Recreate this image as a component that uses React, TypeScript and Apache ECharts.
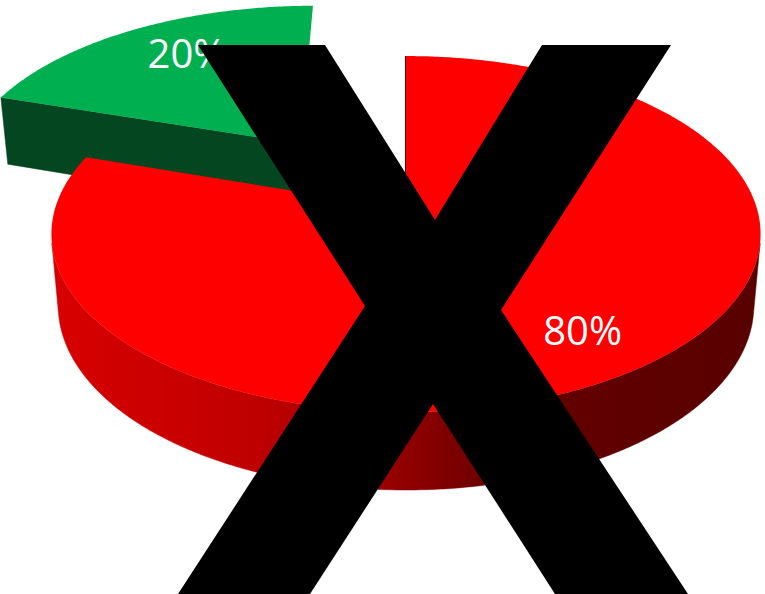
import { useEffect, useRef } from "react";
import * as echarts from "echarts";

// ---- data ----
const CATEGORIES = ["Red", "Green"];
const VALUES = [80, 20];

// ---- styles ----
const TOP_COLORS = ["#FE0000", "#00B050"];
const CUT_COLORS = ["#6A0000", "#03461F"];
const SIDE_STOPS = [
  [
    { offset: 0, color: "#D80000" },
    { offset: 0.28, color: "#C00000" },
    { offset: 0.39, color: "#AE0000" },
    { offset: 0.52, color: "#8A0000" },
    { offset: 0.63, color: "#660000" },
    { offset: 1, color: "#580000" },
  ],
  [
    { offset: 0, color: "#03461F" },
    { offset: 1, color: "#03461F" },
  ],
];
// exploded offset of each slice (world units, radius = 1)
const EXPLODE = [
  [0, 0],
  [-0.317, 0.393],
];
const LABEL_POS = [
  { r: 0.78, shift: 0 },
  { r: 0.75, shift: 4 },
];
// camera
const CAM = { cx: 406, cy: 209, f: 2166, d: 6.17, sinA: 0.497, cosA: 0.868, h: 0.2375 };

const X_MARK = [
  [198, 45], [325, 45], [435, 220], [542, 45], [671, 45], [501, 310],
  [688, 594], [555, 594], [433, 404], [310, 594], [178, 594], [365, 306],
];

function project(X: number, Y: number, Z: number) {
  const w = CAM.d + Y * CAM.cosA - Z * CAM.sinA;
  const v = Y * CAM.sinA + Z * CAM.cosA;
  return [CAM.cx + (CAM.f * X) / w, CAM.cy - (CAM.f * v) / w];
}

const TOTAL = VALUES.reduce((a, b) => a + b, 0);
const RAD = Math.PI / 180;

function renderItem(params: any, api: any) {
  const i = params.dataIndex;
  const val = api.value(0);
  let before = 0;
  for (let k = 0; k < i; k++) before += VALUES[k];
  const t0 = (before / TOTAL) * 360;
  const t1 = t0 + (val / TOTAL) * 360;
  const [ex, ey] = EXPLODE[i];
  const pt = (deg: number, r: number, z: number) =>
    project(ex + r * Math.sin(deg * RAD), ey + r * Math.cos(deg * RAD), z);
  const base = Math.round(-ey * 100);
  const children: any[] = [];

  // outer side (only faces turned to the viewer)
  const vis = (deg: number) => {
    const s = Math.sin(deg * RAD), c = Math.cos(deg * RAD);
    return -ex * s - ey * c - 1 - CAM.d * CAM.cosA * c > 0;
  };
  const steps = Math.max(2, Math.ceil((t1 - t0) / 0.5));
  let run: number[] = [];
  const runs: number[][] = [];
  for (let s = 0; s <= steps; s++) {
    const deg = t0 + ((t1 - t0) * s) / steps;
    if (vis(deg)) run.push(deg);
    else if (run.length) { runs.push(run); run = []; }
  }
  if (run.length) runs.push(run);
  const sideFill = new echarts.graphic.LinearGradient(50, 0, 765, 0, SIDE_STOPS[i], true);
  runs.forEach((r) => {
    if (r.length < 2) return;
    const pts = r.map((d) => pt(d, 1, 0)).concat(r.slice().reverse().map((d) => pt(d, 1, -CAM.h)));
    children.push({
      type: "polygon",
      z2: base + 1,
      shape: { points: pts },
      style: { fill: sideFill, stroke: sideFill, lineWidth: 0.5 },
    });
  });

  // radial cut faces (edge-on ones become a thin dark edge line, grazing slivers are skipped)
  const camX = 0, camY = -CAM.d * CAM.cosA;
  const cuts = [
    { deg: t0, n: [-Math.cos(t0 * RAD), Math.sin(t0 * RAD)] },
    { deg: t1, n: [Math.cos(t1 * RAD), -Math.sin(t1 * RAD)] },
  ];
  cuts.forEach((c) => {
    const dot = (camX - ex) * c.n[0] + (camY - ey) * c.n[1];
    const edgeOn = Math.abs(dot) < 1e-3;
    if (edgeOn || dot > 1) {
      children.push({
        type: "polygon",
        z2: base + 2,
        shape: {
          points: [pt(c.deg, 0, 0), pt(c.deg, 1, 0), pt(c.deg, 1, -CAM.h), pt(c.deg, 0, -CAM.h)],
        },
        style: { fill: CUT_COLORS[i], stroke: CUT_COLORS[i], lineWidth: edgeOn ? 2 : 0.5 },
      });
    }
  });

  // top face
  const top: number[][] = [pt(0, 0, 0)];
  for (let s = 0; s <= steps; s++) top.push(pt(t0 + ((t1 - t0) * s) / steps, 1, 0));
  children.push({
    type: "polygon",
    z2: base + 3,
    shape: { points: top },
    style: { fill: TOP_COLORS[i] },
  });

  // label
  const lp = LABEL_POS[i];
  const mid = (t0 + t1) / 2 + lp.shift;
  const [lx, ly] = pt(mid, lp.r, 0);
  children.push({
    type: "text",
    z2: 200,
    x: lx,
    y: ly,
    style: {
      text: `${Math.round((val / TOTAL) * 100)}%`,
      fill: "#FFFFFF",
      fontSize: 40,
      fontFamily: "Open Sans",
      align: "center",
      verticalAlign: "middle",
    },
  });

  return { type: "group", children };
}

export default function App() {
  const ref = useRef<HTMLDivElement>(null);
  useEffect(() => {
    if (!ref.current) return;
    const chart = echarts.init(ref.current, null, { renderer: "svg" });
    chart.setOption({
      animation: false,
      backgroundColor: "#FFFFFF",
      series: [
        {
          type: "custom",
          coordinateSystem: "none",
          renderItem,
          data: VALUES.map((v, k) => ({ name: CATEGORIES[k], value: v })),
        },
      ],
      graphic: [
        {
          type: "polygon",
          z: 100,
          shape: { points: X_MARK },
          style: { fill: "#000000" },
        },
      ],
    });
    return () => chart.dispose();
  }, []);
  return (
    <div
      ref={ref}
      style={{ position: "fixed", left: 0, top: 0, width: 765, height: 594, background: "#fff" }}
    />
  );
}
